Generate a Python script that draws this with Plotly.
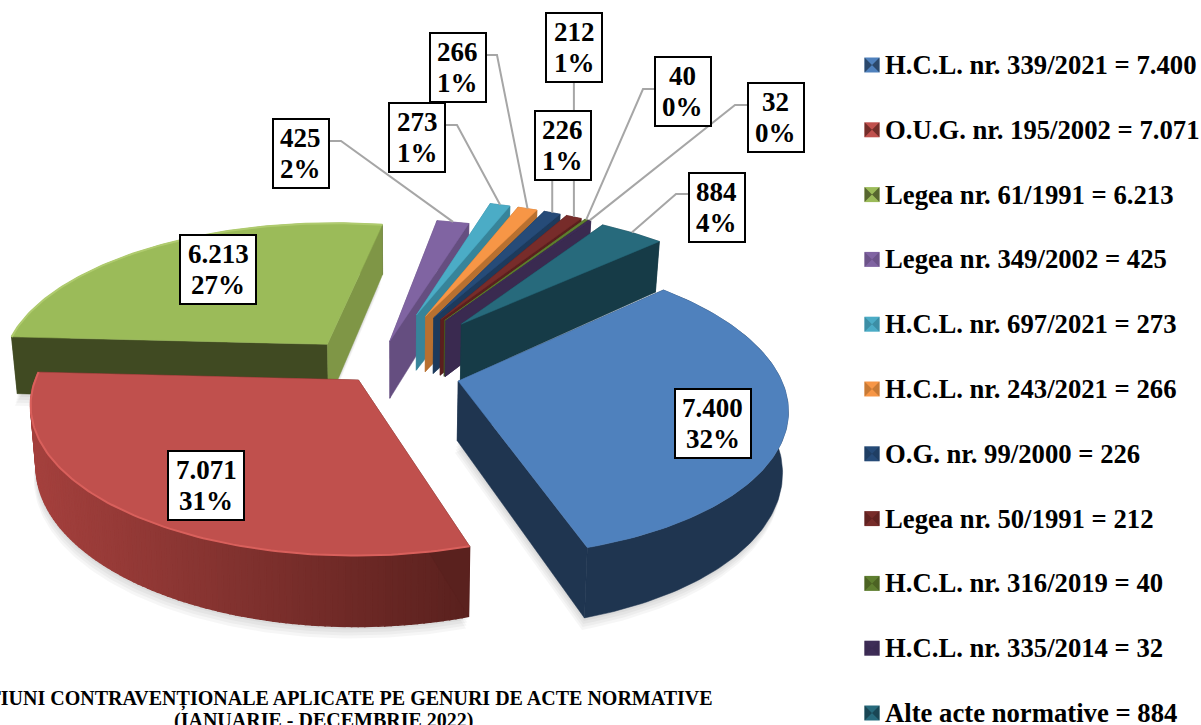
import math
import plotly.graph_objects as go

categories = ["H.C.L. nr. 339/2021", "O.U.G. nr. 195/2002", "Legea nr. 61/1991", "Legea nr. 349/2002",
              "H.C.L. nr. 697/2021", "H.C.L. nr. 243/2021", "O.G. nr. 99/2000", "Legea nr. 50/1991",
              "H.C.L. nr. 316/2019", "H.C.L. nr. 335/2014", "Alte acte normative"]
values = [7400, 7071, 6213, 425, 273, 266, 226, 212, 40, 32, 884]
explode = [0.265, 0.077, 0.238, 0.215, 0.43, 0.43, 0.43, 0.43, 0.43, 0.43, 0.44]
radius = [0.985, 0.985, 1.012, 1.03, 1.03, 1.03, 1.03, 1.03, 1.03, 1.03, 1.01]
top_colors = ["#4F81BD", "#C0504D", "#9BBB59", "#8064A2", "#4BACC6", "#F79646", "#264B78", "#772C2A", "#5F7F30", "#3E2D57", "#276A7C"]
start_face = ["#1F3550", "#5A211E", "#404A22", "#654E80", "#37849A", "#B87030", "#1D3A5C", "#5A1F1E", "#46591F", "#3A2A50", "#163B47"]
end_face = ["#1F3550", "#5A211E", "#7F9646", "#654E80", "#37849A", "#B87030", "#1D3A5C", "#5A1F1E", "#46591F", "#3A2A50", "#163B47"]
rim_left = ["#1F3550", "#A5413E", "#404A22", "#654E80", "#37849A", "#B87030", "#1D3A5C", "#5A1F1E", "#46591F", "#3A2A50", "#163B47"]
rim_right = ["#1F3550", "#5A211E", "#404A22", "#654E80", "#37849A", "#B87030", "#1D3A5C", "#5A1F1E", "#46591F", "#3A2A50", "#163B47"]
rim_light = [None, "#D9605C", "#AFCB6E", None, None, None, None, None, None, None, None]
paint_order = [2, 3, 4, 5, 6, 7, 8, 9, 10, 1, 0]

# label box centres and leader starts, in page pixels
label_pos = [(712.5, 423), (206, 485), (218, 269), (300.7, 153), (417, 137), (457.5, 67.5),
             (562.5, 145), (574, 47), (682.5, 91), (775.5, 117), (716.5, 207)]
leader_start = [None, None, None, [(329, 141), (341, 141)], [(445, 125), (457, 125)], [(486, 55), (497, 55)],
                [(None, 180)], [(None, 82)], [(654, 89), (643, 89)], [(747, 105), (735, 105)],
                [(688, 194), (676, 194)]]

title_line1 = "SANCȚIUNI CONTRAVENȚIONALE APLICATE PE GENURI DE ACTE NORMATIVE"
title_line2 = "(IANUARIE - DECEMBRIE 2022)"

W, H = 1201, 725
CX, CY = 374, 371
A, B, K, DEPTH = 325, 147, 0.16, 59
PHI0 = -43
VX, TAPER = 395, 0.985
FONT = "Liberation Serif"

total = sum(values)


def disk(dx, dy):
    w = 1 - K * dy
    return A * dx / w, B * dy / w


def hex_rgb(c):
    return tuple(int(c[i:i + 2], 16) for i in (1, 3, 5))


def mix(c1, c2, t):
    a, b = hex_rgb(c1), hex_rgb(c2)
    return "rgb(%d,%d,%d)" % tuple(a[i] + (b[i] - a[i]) * t for i in range(3))


fig = go.Figure()


def poly(pts, color, lw=0.5):
    fig.add_trace(go.Scatter(x=[p[0] for p in pts] + [pts[0][0]], y=[p[1] for p in pts] + [pts[0][1]],
                             mode="lines", fill="toself", fillcolor=color,
                             line=dict(color=color, width=lw), hoverinfo="skip", showlegend=False))


spans = []
a = PHI0
for v in values:
    d = 360 * v / total
    spans.append((a, a + d))
    a += d

rim_mid = {}
for i in paint_order:
    a0, a1 = spans[i]
    m = math.radians((a0 + a1) / 2)
    ex, ey = explode[i] * math.cos(m), explode[i] * math.sin(m)
    ox, oy = disk(ex, ey)
    ax, ay = CX + ox, CY + oy
    R = radius[i]

    def top(phi, r=1.0):
        p = math.radians(phi)
        x, y = disk(ex + R * r * math.cos(p), ey + R * r * math.sin(p))
        return ax + x - ox, ay + y - oy

    def bottom(phi, r=1.0):
        p = math.radians(phi)
        x, y = top(phi, r)
        depth = DEPTH / (1 - K * (ey + R * r * math.sin(p)))
        return VX + (x - VX) * TAPER, y + depth

    rim_mid[i] = top((a0 + a1) / 2)
    steps = max(2, int(a1 - a0))
    angles = [a0 + (a1 - a0) * k / steps for k in range(steps + 1)]
    # soft ground shadow under the large slices
    if values[i] > 1000:
        for off in (3, 6, 9, 12):
            pts = [bottom(a0, 0)] + [bottom(p) for p in angles]
            poly([(x - off * 0.2, y + off) for x, y in pts], "rgba(0,0,0,0.035)", lw=0)
    # outer wall: one piece when flat, short strips when shaded
    if rim_left[i] == rim_right[i]:
        poly([top(p) for p in angles] + [bottom(p) for p in reversed(angles)], rim_left[i])
    else:
        xs = [top(p)[0] for p in angles]
        lo, hi = min(xs), max(xs)
        for k in range(steps):
            t = ((xs[k] + xs[k + 1]) / 2 - lo) / max(hi - lo, 1)
            poly([top(angles[k]), top(angles[k + 1]), bottom(angles[k + 1]), bottom(angles[k])],
                 mix(rim_left[i], rim_right[i], t), lw=1.5)
    # radial faces
    poly([top(a0, 0), top(a0), bottom(a0), bottom(a0, 0)], start_face[i])
    poly([top(a1, 0), top(a1), bottom(a1), bottom(a1, 0)], end_face[i])
    # top surface
    arc = [top(p) for p in angles]
    poly([(ax, ay)] + arc, top_colors[i])
    if rim_light[i]:
        fig.add_trace(go.Scatter(x=[p[0] for p in arc], y=[p[1] for p in arc], mode="lines",
                                 line=dict(color=rim_light[i], width=2), hoverinfo="skip", showlegend=False))

annotations = []
for i, (v, (lx, ly)) in enumerate(zip(values, label_pos)):
    if leader_start[i]:
        pts = [(rim_mid[i][0] if p[0] is None else p[0], p[1]) for p in leader_start[i]] + [rim_mid[i]]
        fig.add_trace(go.Scatter(x=[p[0] for p in pts], y=[p[1] for p in pts], mode="lines",
                                 line=dict(color="#A6A6A6", width=2), hoverinfo="skip", showlegend=False))
    annotations.append(dict(x=lx, y=ly, xref="x", yref="y", text=" ", showarrow=False, align="center",
                            width=74 if v > 1000 else 54, height=67, borderwidth=2, bordercolor="black",
                            bgcolor="white", borderpad=0, font=dict(family=FONT, size=12)))
    line1 = f"{v:,}".replace(",", ".")
    line2 = f"{round(100 * v / total)}%"
    for text, dy in ((line1, -15.5), (line2, 15.5)):
        annotations.append(dict(x=lx, y=ly + dy, xref="x", yref="y", text=text, showarrow=False,
                                font=dict(family=FONT, size=27, color="black", weight="bold")))

LEG_X, LEG_Y0, LEG_STEP = 872, 65, 64.8
for i, (c, v) in enumerate(zip(categories, values)):
    label = f"{c} = " + f"{v:,}".replace(",", ".")
    y = LEG_Y0 + i * LEG_STEP
    fig.add_trace(go.Scatter(x=[LEG_X], y=[y], mode="markers",
                             marker=dict(symbol="square", size=15, color=top_colors[i], line=dict(width=0)),
                             hoverinfo="skip", showlegend=False))
    fig.add_trace(go.Scatter(x=[LEG_X], y=[y], mode="markers",
                             marker=dict(symbol="bowtie", size=15, color=start_face[i], opacity=0.75, line=dict(width=0)),
                             hoverinfo="skip", showlegend=False))
    annotations.append(dict(x=LEG_X + 11, y=y, xref="x", yref="y", text=label, showarrow=False,
                            xanchor="left", yanchor="middle",
                            font=dict(family=FONT, size=26.7, color="black", weight="bold")))

for text, y in ((title_line1, 699), (title_line2, 720)):
    annotations.append(dict(x=323, y=y, xref="x", yref="y", text=text, showarrow=False, align="center",
                            font=dict(family=FONT, size=20, color="black", weight="bold")))

fig.update_layout(width=W, height=H, margin=dict(l=0, r=0, t=0, b=0), plot_bgcolor="white", paper_bgcolor="white",
                  xaxis=dict(range=[0, W], visible=False, fixedrange=True),
                  yaxis=dict(range=[H, 0], visible=False, fixedrange=True),
                  annotations=annotations, showlegend=False)
fig.write_html("out.html", config=dict(displayModeBar=False),
               post_script="document.body.style.margin='0';document.body.style.overflow='hidden';")
